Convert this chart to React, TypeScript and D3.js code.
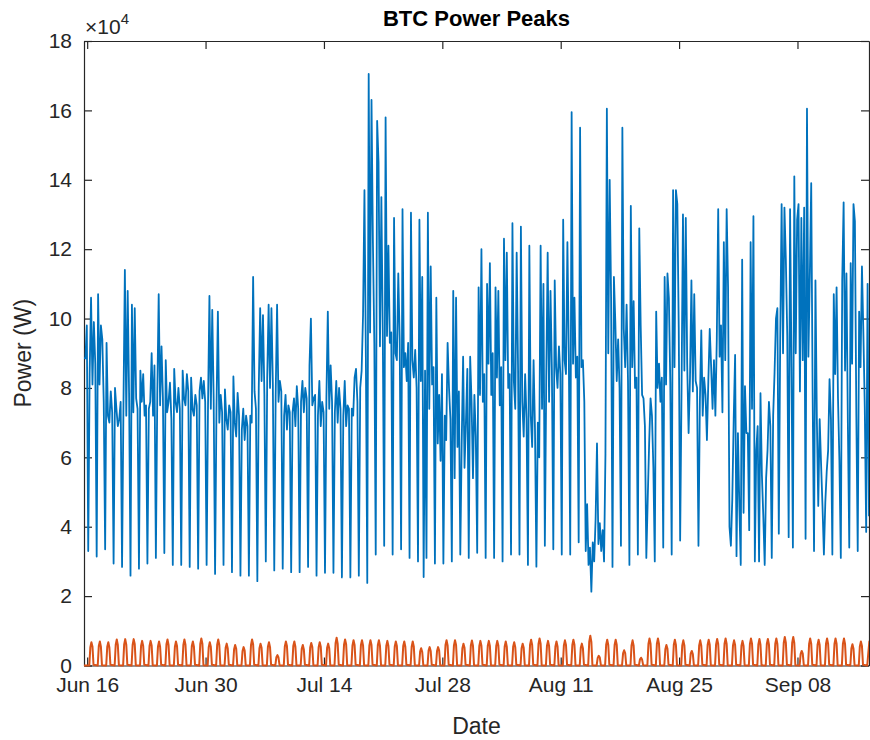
import React, { useEffect, useRef } from 'react'
import * as d3 from 'd3'

// BTC power, 4-hourly readings in units of 1e4 W.
// first row: Jun 15 15h,19h,23h ; then one row per day (03h,07h,11h,15h,19h,23h) ; last row Sep 16 03h,07h,11h
const btcStart = new Date(2019, 5, 15, 15)
const btcPower: number[][] = [
  [8.86, 8.85, 9.8],
  [3.3, 8.4, 10.6, 8.1, 9.9, 8.7], [3.14, 10.7, 8.1, 9.8, 9.4, 7.6], [3.35, 9.3, 7.2, 7.0, 7.9, 7.3],
  [2.94, 8.0, 7.4, 6.9, 7.1, 7.6], [2.84, 7.5, 11.4, 7.2, 10.8, 7.8], [2.59, 10.4, 7.3, 10.3, 7.7, 7.4],
  [2.79, 8.5, 7.6, 8.4, 7.2, 7.5], [2.94, 7.4, 7.6, 9.0, 7.2, 8.65], [3.1, 7.8, 10.7, 7.5, 9.2, 7.7],
  [3.24, 8.8, 7.3, 7.6, 8.15, 7.1], [2.9, 8.55, 7.6, 7.3, 8.0, 7.4], [2.9, 8.5, 7.7, 7.5, 8.4, 7.9],
  [2.84, 8.3, 7.4, 7.2, 7.8, 7.5], [2.79, 7.9, 8.3, 7.7, 8.2, 7.6], [2.9, 7.5, 10.65, 7.4, 10.25, 7.7],
  [2.64, 7.4, 10.2, 7.0, 7.8, 7.3], [2.9, 7.96, 7.1, 6.8, 7.5, 7.3], [2.69, 8.33, 7.0, 6.6, 7.86, 7.2],
  [2.59, 6.8, 7.4, 6.5, 7.2, 6.9], [2.59, 7.2, 7.0, 11.2, 7.9, 7.4], [2.43, 8.0, 10.3, 8.2, 10.1, 7.8],
  [3.0, 8.3, 10.4, 8.0, 10.3, 8.1], [2.74, 7.8, 10.4, 7.6, 8.2, 7.9], [2.79, 7.2, 7.8, 6.8, 7.5, 7.3],
  [2.69, 7.3, 7.7, 6.9, 8.05, 7.4], [2.69, 7.6, 8.2, 7.3, 8.0, 7.7], [2.84, 8.65, 10.0, 7.5, 7.7, 7.8],
  [2.59, 7.2, 8.2, 6.9, 7.6, 7.3], [2.67, 7.7, 10.2, 7.4, 8.65, 7.6], [2.67, 7.3, 8.2, 7.0, 8.0, 7.4],
  [2.54, 7.2, 8.2, 6.9, 7.5, 7.4], [2.54, 7.4, 7.2, 8.3, 8.55, 7.6], [2.59, 8.0, 8.5, 10.1, 13.7, 8.9],
  [2.38, 17.05, 9.6, 16.3, 12.2, 9.3], [3.2, 15.7, 14.5, 9.2, 13.5, 9.6], [3.45, 15.8, 9.5, 12.1, 9.3, 9.6],
  [3.2, 12.9, 9.0, 8.8, 11.3, 9.4], [3.35, 13.15, 8.6, 9.0, 8.2, 9.3], [3.1, 13.05, 8.8, 8.3, 9.1, 8.0],
  [3.0, 12.85, 8.2, 11.2, 2.55, 8.5], [3.1, 13.05, 7.4, 11.5, 8.1, 8.6], [2.94, 10.6, 6.4, 7.8, 5.9, 8.4],
  [2.94, 7.2, 6.5, 9.3, 8.0, 7.1], [3.0, 10.8, 5.4, 10.6, 6.3, 7.9], [3.2, 6.4, 8.9, 5.7, 7.0, 8.55],
  [3.1, 8.9, 7.6, 5.4, 7.8, 6.6], [3.25, 10.9, 7.8, 12.0, 7.6, 8.4], [3.1, 11.0, 8.7, 11.6, 7.8, 9.0],
  [3.1, 10.9, 8.3, 10.8, 7.5, 8.6], [3.0, 12.3, 8.8, 11.9, 8.0, 8.4], [3.2, 12.75, 8.2, 7.4, 11.9, 8.5],
  [3.2, 12.65, 7.6, 6.6, 8.4, 7.1], [2.9, 12.1, 7.2, 6.3, 8.8, 6.8], [2.85, 7.0, 6.0, 12.1, 7.4, 11.0],
  [3.45, 8.3, 11.9, 7.6, 10.8, 8.5], [3.35, 11.1, 8.6, 8.0, 9.2, 8.4], [3.2, 12.85, 8.8, 8.4, 12.2, 9.0],
  [3.2, 15.95, 8.7, 10.6, 8.3, 8.9], [3.55, 15.5, 8.6, 8.8, 7.6, 3.3], [4.65, 2.9, 3.4, 2.13, 3.55, 3.0],
  [4.2, 6.4, 3.5, 4.1, 3.3, 3.9], [3.0, 6.1, 16.05, 9.0, 14.0, 10.6], [2.84, 11.2, 9.9, 8.2, 9.4, 8.0],
  [3.45, 15.5, 9.7, 8.6, 10.4, 8.2], [2.9, 13.25, 8.6, 10.5, 8.0, 8.3], [3.2, 12.6, 9.8, 7.8, 7.7, 6.9],
  [3.1, 4.8, 6.4, 7.7, 7.2, 5.7], [3.0, 10.2, 8.0, 8.7, 7.6, 8.3], [3.4, 11.2, 8.1, 11.3, 10.6, 8.15],
  [3.2, 13.7, 8.6, 13.7, 13.3, 9.75], [3.6, 8.0, 13.0, 8.5, 12.9, 8.7], [6.7, 8.3, 11.1, 7.9, 10.7, 8.2],
  [8.0, 3.45, 7.6, 9.66, 7.2, 8.3], [7.8, 6.5, 8.2, 9.7, 8.6, 7.4], [8.8, 7.2, 9.4, 13.15, 8.9, 9.8],
  [7.3, 12.2, 8.8, 13.15, 10.9, 4.0], [3.45, 4.8, 7.1, 8.95, 3.15, 6.7], [4.6, 2.9, 11.7, 4.4, 8.05, 6.7],
  [6.7, 3.9, 12.2, 7.4, 12.95, 3.0], [6.2, 6.9, 3.0, 7.85, 5.5, 4.3], [2.9, 5.4, 6.2, 7.6, 6.9, 3.1],
  [7.2, 8.45, 10.0, 10.3, 3.8, 9.4], [13.3, 9.0, 13.2, 11.7, 9.5, 3.7], [13.15, 8.6, 3.4, 14.1, 9.0, 12.85],
  [13.3, 7.9, 12.9, 8.8, 13.2, 3.65], [16.05, 8.9, 11.2, 13.9, 7.85, 3.3], [11.1, 7.1, 4.6, 7.1, 5.8, 4.6],
  [3.2, 4.7, 5.6, 6.2, 8.25, 7.1], [3.2, 10.7, 8.4, 10.9, 7.7, 5.9], [3.1, 11.1, 13.35, 8.5, 11.3, 7.0],
  [3.4, 11.6, 8.7, 13.3, 12.8, 7.25], [3.3, 10.2, 8.6, 11.5, 9.6, 7.45],
  [3.85, 11.0, 4.3],
]

// second series, kW, one row per day from Jun 16: readings at 06h, 09h, 12h, 15h, 18h
const pvFirstDay = new Date(2019, 5, 16)
const pvHours = [6, 9, 12, 15, 18]
const pvPower: number[][] = [
  [0, 5.3, 6.7, 5.5, 0.2], [0, 5.6, 6.9, 5.4, 0.1], [0, 5.4, 6.7, 5.2, 0.2], [0, 6.0, 7.5, 5.9, 0.1],
  [0, 6.1, 7.6, 6.0, 0.2], [0, 5.9, 7.6, 6.2, 0.1], [0, 5.7, 7.1, 5.6, 0.2], [0, 5.6, 7.1, 5.8, 0.1],
  [0, 5.5, 6.9, 5.4, 0.2], [0, 6.1, 7.5, 5.9, 0.1], [0, 5.4, 6.9, 5.6, 0.2], [0, 5.9, 7.5, 6.0, 0.1],
  [0, 5.6, 6.9, 5.4, 0.2], [0, 6.2, 7.8, 6.3, 0.1], [0, 5.3, 6.7, 5.4, 0.2], [0, 6.0, 7.5, 5.9, 0.1],
  [0, 5.1, 6.3, 4.9, 0.2], [0, 4.7, 5.9, 4.8, 0.1], [0, 4.2, 5.3, 4.3, 0.1], [0, 5.9, 7.5, 6.1, 0.2],
  [0, 5.0, 6.3, 5.1, 0.1], [0, 5.4, 6.7, 5.3, 0.2], [0, 2.4, 3.0, 2.3, 0.1], [0, 5.5, 6.9, 5.6, 0.2],
  [0, 5.6, 6.9, 5.4, 0.1], [0, 4.8, 5.9, 4.6, 0.2], [0, 5.2, 6.5, 5.3, 0.1], [0, 5.3, 6.7, 5.4, 0.2],
  [0, 5.1, 6.3, 5.0, 0.1], [0, 6.4, 8.0, 6.3, 0.2], [0, 6.0, 7.5, 6.1, 0.1], [0, 5.8, 7.3, 5.9, 0.2],
  [0, 5.9, 7.3, 5.8, 0.1], [0, 5.8, 7.3, 5.9, 0.2], [0, 5.9, 7.3, 5.7, 0.1], [0, 5.7, 7.1, 5.6, 0.2],
  [0, 5.5, 6.9, 5.6, 0.1], [0, 5.6, 6.9, 5.4, 0.2], [0, 5.4, 6.9, 5.5, 0.1], [0, 4.0, 5.0, 3.9, 0.1],
  [0, 4.3, 5.3, 4.2, 0.2], [0, 4.2, 5.3, 4.3, 0.1], [0, 5.9, 7.3, 5.8, 0.2], [0, 5.8, 7.3, 5.9, 0.1],
  [0, 5.0, 6.3, 5.1, 0.2], [0, 5.8, 7.2, 5.7, 0.1], [0, 5.6, 7.1, 5.7, 0.2], [0, 5.7, 7.1, 5.6, 0.1],
  [0, 5.6, 7.1, 5.8, 0.2], [0, 5.5, 6.9, 5.4, 0.1], [0, 5.4, 6.7, 5.3, 0.2], [0, 5.0, 6.3, 5.1, 0.1],
  [0, 6.0, 7.45, 5.9, 0.2], [0, 6.2, 7.8, 6.3, 0.1], [0, 5.7, 7.1, 5.6, 0.2], [0, 5.5, 6.9, 5.5, 0.1],
  [0, 5.8, 7.25, 5.9, 0.2], [0, 5.9, 7.45, 6.0, 0.1], [0, 5.1, 6.3, 5.0, 0.2], [0, 6.9, 8.6, 6.8, 0.1],
  [0, 2.2, 2.8, 2.3, 0.1], [0, 6.0, 7.45, 5.9, 0.2], [0, 5.9, 7.45, 6.0, 0.1], [0, 3.5, 4.4, 3.6, 0.1],
  [0, 5.8, 7.25, 5.7, 0.2], [0, 1.8, 2.25, 1.7, 0.1], [0, 6.2, 7.8, 6.3, 0.2], [0, 6.3, 7.8, 6.2, 0.1],
  [0, 4.7, 5.9, 4.8, 0.2], [0, 6.0, 7.45, 5.9, 0.1], [0, 5.8, 7.25, 5.8, 0.2], [0, 3.4, 4.2, 3.3, 0.1],
  [0, 5.8, 7.25, 5.7, 0.2], [0, 5.9, 7.45, 6.0, 0.1], [0, 6.1, 7.65, 6.2, 0.2], [0, 6.3, 7.8, 6.2, 0.1],
  [0, 5.8, 7.25, 5.9, 0.2], [0, 5.7, 7.1, 5.6, 0.1], [0, 6.2, 7.8, 6.3, 0.2], [0, 6.1, 7.65, 6.0, 0.1],
  [0, 6.2, 7.65, 6.1, 0.2], [0, 6.3, 7.8, 6.2, 0.1], [0, 6.5, 8.2, 6.6, 0.2], [0, 6.6, 8.2, 6.5, 0.1],
  [0, 3.3, 4.2, 3.4, 0.1], [0, 6.2, 7.8, 6.3, 0.2], [0, 6.0, 7.45, 5.9, 0.1], [0, 6.3, 7.8, 6.2, 0.2],
  [0, 6.2, 7.8, 6.3, 0.1], [0, 6.3, 7.8, 6.2, 0.2], [0, 4.9, 6.1, 4.8, 0.1], [0, 5.5, 6.9, 5.6, 0.2],
  [0, 3.6, 6.9, 5.5, 0.1],
]

const xTickLabels = ['Jun 16', 'Jun 30', 'Jul 14', 'Jul 28', 'Aug 11', 'Aug 25', 'Sep 08']
const yTicks = [0, 2, 4, 6, 8, 10, 12, 14, 16, 18]

export default function App() {
  const svgRef = useRef<SVGSVGElement>(null)

  useEffect(() => {
    const W = 870
    const H = 740
    const left = 84, right = 869, top = 41, bottom = 665.5
    const ink = '#262626'
    const font = '"Liberation Sans", Arial, Helvetica, sans-serif'

    const svg = d3.select(svgRef.current)
    svg.selectAll('*').remove()
    svg.attr('width', W).attr('height', H).style('background', '#fff').style('font-family', font)

    // series
    const step = 4 * 3600 * 1000
    const btc = btcPower.flat().map((v, i) => ({ t: new Date(btcStart.getTime() + i * step), v: v * 1e4 }))
    const pv = [{ t: btcStart, v: 0 }]
    pvPower.forEach((row, d) => {
      row.forEach((v, k) => {
        const t = d3.timeDay.offset(pvFirstDay, d)
        t.setHours(pvHours[k])
        pv.push({ t, v: v * 1e3 })
      })
    })

    const xScale = d3.scaleTime()
      .domain(d3.extent(btc, d => d.t) as [Date, Date])
      .range([left, right])
    const yScale = d3.scaleLinear().domain([0, 18e4]).range([bottom, top])

    const parse = d3.timeParse('%b %d %Y')
    const xTicks = xTickLabels.map(s => parse(s + ' 2019') as Date)

    // axes (ticks pointing inward, box on)
    const styleAxis = (g: any) => {
      g.selectAll('path').attr('stroke', ink).attr('stroke-width', 1.2)
      g.selectAll('line').attr('stroke', ink).attr('stroke-width', 1.2)
      g.selectAll('text').attr('fill', ink).style('font-size', '21px').style('font-family', font)
    }

    svg.append('g')
      .attr('transform', `translate(0, ${bottom})`)
      .call(d3.axisBottom(xScale).tickValues(xTicks).tickFormat((d, i) => xTickLabels[i]).tickSizeInner(-8).tickSizeOuter(0).tickPadding(12))
      .call(styleAxis)
    svg.append('g')
      .attr('transform', `translate(0, ${top})`)
      .call(d3.axisTop(xScale).tickValues(xTicks).tickFormat(() => '').tickSizeInner(-8).tickSizeOuter(0))
      .call(styleAxis)
    svg.append('g')
      .attr('transform', `translate(${left}, 0)`)
      .call(d3.axisLeft(yScale).tickValues(yTicks.map(v => v * 1e4)).tickFormat(v => String(+v / 1e4)).tickSizeInner(-8).tickSizeOuter(0).tickPadding(12))
      .call(styleAxis)
    svg.append('g')
      .attr('transform', `translate(${right}, 0)`)
      .call(d3.axisRight(yScale).tickValues(yTicks.map(v => v * 1e4)).tickFormat(() => '').tickSizeInner(-8).tickSizeOuter(0))
      .call(styleAxis)

    // data lines
    svg.append('clipPath').attr('id', 'plotClip')
      .append('rect').attr('x', left).attr('y', top).attr('width', right - left).attr('height', bottom - top + 4)

    const line = d3.line<{ t: Date; v: number }>()
      .x(d => xScale(d.t))
      .y(d => yScale(d.v))

    const lines = svg.append('g').attr('clip-path', 'url(#plotClip)')
    lines.append('path')
      .attr('d', line(btc))
      .attr('fill', 'none')
      .attr('stroke', '#0072BD')
      .attr('stroke-width', 1.8)
      .attr('stroke-linejoin', 'round')
    lines.append('path')
      .attr('d', line(pv))
      .attr('fill', 'none')
      .attr('stroke', '#D95319')
      .attr('stroke-width', 2)
      .attr('stroke-linejoin', 'round')

    // exponent label
    const expo = svg.append('text')
      .attr('x', 85).attr('y', 34)
      .attr('fill', ink).style('font-size', '21px')
    expo.append('tspan').text('\u00d710')
    expo.append('tspan').attr('dy', -10).style('font-size', '15px').text('4')

    // title and labels
    svg.append('text')
      .attr('x', (left + right) / 2).attr('y', 26)
      .attr('text-anchor', 'middle').attr('fill', '#000')
      .style('font-size', '22px').style('font-weight', 'bold')
      .text('BTC Power Peaks')
    svg.append('text')
      .attr('x', (left + right) / 2).attr('y', 734)
      .attr('text-anchor', 'middle').attr('fill', ink)
      .style('font-size', '23px')
      .text('Date')
    svg.append('text')
      .attr('transform', `translate(31, ${(top + bottom) / 2}) rotate(-90)`)
      .attr('text-anchor', 'middle').attr('fill', ink)
      .style('font-size', '23px')
      .text('Power (W)')
  }, [])

  return (
    <div style={{ position: 'absolute', left: 0, top: 0 }}>
      <svg ref={svgRef}></svg>
    </div>
  )
}
